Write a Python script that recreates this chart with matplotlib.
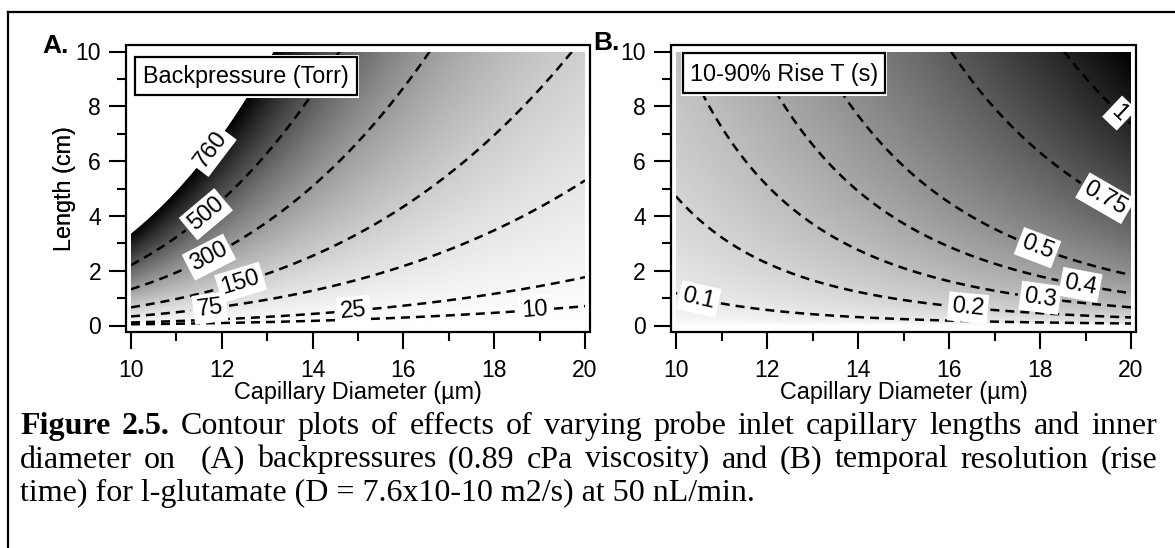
import numpy as np
import matplotlib
matplotlib.use('Agg')
import matplotlib.pyplot as plt
from matplotlib.colors import LinearSegmentedColormap
from matplotlib.patches import Rectangle
from matplotlib.lines import Line2D

diameter_range_um = [10, 20]
length_range_cm = [0, 10]
viscosity_cP = 0.89          # caption: 0.89 cPa viscosity
flow_nL_min = 50             # caption: 50 nL/min
diffusivity_m2_s = 7.6e-10   # caption: D = 7.6x10-10 m2/s
pressure_levels_torr = [10, 25, 75, 150, 300, 500]
pressure_label_pos = [(18.9, 0.57), (14.9, 0.57), (11.74, 0.63), (12.4, 1.66),
                      (11.75, 2.39), (11.63, 4.1)]
pressure_cap_torr = 760
pressure_cap_label_pos = [(11.78, 6.4)]
rise_levels_s = [0.1, 0.2, 0.3, 0.4, 0.5, 0.75, 1]
rise_label_pos = [(10.5, 0.95), (16.42, 0.66), (18.0, 1.0), (18.88, 1.43),
                  (17.93, 2.77), (19.36, 4.42), (19.6, 7.5)]
x_major_ticks = [10, 12, 14, 16, 18, 20]
x_minor_ticks = [11, 13, 15, 17, 19]
y_major_ticks = [0, 2, 4, 6, 8, 10]
y_minor_ticks = [1, 3, 5, 7, 9]
title_A = 'Backpressure (Torr)'
title_B = '10-90% Rise T (s)'
panel_letters = ['A.', 'B.']
xlabel_text = 'Capillary Diameter (µm)'
ylabel_text = 'Length (cm)'
caption_line1 = [('Figure', 'bold'), ('2.5.', 'bold'), ('Contour', 'normal'), ('plots', 'normal'),
                 ('of', 'normal'), ('effects', 'normal'), ('of', 'normal'), ('varying', 'normal'),
                 ('probe', 'normal'), ('inlet', 'normal'), ('capillary', 'normal'),
                 ('lengths', 'normal'), ('and', 'normal'), ('inner', 'normal')]
caption_line2 = ['diameter', 'on', '', '(A)', 'backpressures', '(0.89', 'cPa', 'viscosity)',
                 'and', '(B)', 'temporal', 'resolution', '(rise']
caption_line3 = 'time) for l-glutamate (D = 7.6x10-10 m2/s) at 50 nL/min.'

# ---------------- fields (physical model of the plotted quantities) ----------------
d_um = np.linspace(diameter_range_um[0], diameter_range_um[1], 601)
L_cm = np.linspace(length_range_cm[0], length_range_cm[1], 601)
DD, LL = np.meshgrid(d_um, L_cm)
d_m = DD * 1e-6
L_m = LL * 1e-2
Q = flow_nL_min * 1e-12 / 60.0
mu = viscosity_cP * 1e-3
P_torr = 128 * mu * L_m * Q / (np.pi * d_m ** 4) / 133.322
a = d_m / 2
rise_s = 2 * 1.28155 * a ** 2 * np.sqrt(np.pi * L_m / (24 * diffusivity_m2_s * Q))

# ---------------- figure ----------------
W, H = 1175, 548
plt.rcParams['font.family'] = ['Liberation Sans', 'DejaVu Sans']
fig = plt.figure(figsize=(W / 100, H / 100), dpi=100)
fig.patch.set_facecolor('white')

def fx(px):
    return px / W

def fy(py):
    return 1 - py / H

gray = LinearSegmentedColormap.from_list('wk', ['white', 'black'])

axes_px = [(131, 585), (676, 1131)]
top_px, bot_px = 51.5, 325.5
TICK_FS = 16.5
LABEL_FS = 16.8
CLABEL_FS = 17

def setup_axes(ax, xpx):
    ax.set_xlim(diameter_range_um)
    ax.set_ylim(length_range_cm)
    for s in ax.spines.values():
        s.set_visible(False)
    ax.spines['left'].set_position(('outward', 3.6))
    ax.spines['bottom'].set_position(('outward', 4.7))
    wpx = xpx[1] - xpx[0]
    hpx = bot_px - top_px
    dx, dy = 5 / wpx, 6.5 / hpx
    ax.add_patch(Rectangle((-dx, -dy), 1 + 2 * dx, 1 + 2 * dy, transform=ax.transAxes,
                           fill=False, lw=1.6, ec='black', clip_on=False, zorder=6))
    ax.set_xticks(x_major_ticks)
    ax.set_xticks(x_minor_ticks, minor=True)
    ax.set_yticks(y_major_ticks)
    ax.set_yticks(y_minor_ticks, minor=True)
    ax.tick_params(which='both', direction='out', width=1.5, top=False, right=False,
                   labelsize=TICK_FS, colors='black')
    ax.tick_params(which='major', length=12.5)
    ax.tick_params(which='minor', length=6.5)
    ax.tick_params(axis='x', which='major', pad=7)
    ax.tick_params(axis='y', which='major', pad=5.5)
    ax.set_xlabel(xlabel_text, fontsize=LABEL_FS, va='center')
    ax.xaxis.set_label_coords(0.5, -(393 - bot_px) / hpx)
    ax.set_ylabel(ylabel_text, fontsize=LABEL_FS, va='center')
    ax.yaxis.set_label_coords(-(xpx[0] - 65) / wpx, 0.5)

def style_labels(texts):
    for t in texts:
        t.set_bbox(dict(boxstyle='square,pad=0.15', fc='white', ec='none'))

dash = (0, (3.6, 2.4))
LW = 1.8
fmt = lambda v: f'{v:g}'

# Panel A
xa = axes_px[0]
axA = fig.add_axes([fx(xa[0]), fy(bot_px), (xa[1] - xa[0]) / W, (bot_px - top_px) / H])
axA.imshow(np.minimum(P_torr, pressure_cap_torr), origin='lower',
           extent=[*diameter_range_um, *length_range_cm],
           aspect='auto', cmap=gray, vmin=0, vmax=pressure_cap_torr, interpolation='bilinear')
axA.contourf(DD, LL, P_torr, levels=[pressure_cap_torr, P_torr.max() * 2], colors='white',
             antialiased=True)
csA = axA.contour(DD, LL, P_torr, levels=pressure_levels_torr, colors='black', linewidths=LW)
csA.set_linestyle(dash)
txA = axA.clabel(csA, pressure_levels_torr, manual=pressure_label_pos, inline=True,
                 inline_spacing=6, fmt=fmt, fontsize=CLABEL_FS)
style_labels(txA)
csCap = axA.contour(DD, LL, P_torr, levels=[pressure_cap_torr], colors='black', linewidths=0)
txCap = axA.clabel(csCap, [pressure_cap_torr], manual=pressure_cap_label_pos, inline=False,
                   fmt=fmt, fontsize=CLABEL_FS)
style_labels(txCap)
setup_axes(axA, xa)

# Panel B
xb = axes_px[1]
axB = fig.add_axes([fx(xb[0]), fy(bot_px), (xb[1] - xb[0]) / W, (bot_px - top_px) / H])
axB.imshow(rise_s, origin='lower', extent=[*diameter_range_um, *length_range_cm],
           aspect='auto', cmap=gray, vmin=0, vmax=rise_s.max(), interpolation='bilinear')
csB = axB.contour(DD, LL, rise_s, levels=rise_levels_s, colors='black', linewidths=LW)
csB.set_linestyle(dash)
txB = axB.clabel(csB, rise_levels_s, manual=rise_label_pos, inline=True,
                 inline_spacing=6, fmt=fmt, fontsize=CLABEL_FS)
style_labels(txB)
setup_axes(axB, xb)

# legend-like title boxes
def title_box(x0, y0, x1, y1, text, tx):
    fig.add_artist(Rectangle((fx(x0 - 2), fy(y1 + 3)), (x1 - x0 + 4) / W, (y1 - y0 + 5) / H,
                             transform=fig.transFigure, fc='white', ec='none', zorder=10))
    fig.add_artist(Rectangle((fx(x0), fy(y1)), (x1 - x0) / W, (y1 - y0) / H,
                             transform=fig.transFigure, fc='white', ec='black', lw=1.6, zorder=11))
    fig.text(fx(tx), fy((y0 + y1) / 2 + 1), text, fontsize=LABEL_FS, ha='left', va='center',
             zorder=12)

title_box(135, 57, 357, 95, title_A, 143)
title_box(683, 53, 885, 93, title_B, 690)

# panel letters
fig.text(fx(42), fy(53), panel_letters[0], fontsize=19, fontweight='bold', va='baseline', ha='left')
fig.text(fx(593), fy(50), panel_letters[1], fontsize=19, fontweight='bold', va='baseline', ha='left')

# outer frame
fig.add_artist(Line2D([fx(8), fx(8)], [fy(12), fy(H + 5)], transform=fig.transFigure,
                      color='black', lw=1.6))
fig.add_artist(Line2D([fx(8), fx(W + 5)], [fy(12), fy(12)], transform=fig.transFigure,
                      color='black', lw=1.6))

# caption (justified like the original document)
renderer = fig.canvas.get_renderer()
serif = ['Liberation Serif', 'DejaVu Serif']

def text_width(s, size, weight='normal'):
    t = fig.text(0, 0, s, fontsize=size, fontweight=weight, family=serif)
    w = t.get_window_extent(renderer).width
    t.remove()
    return w

cap_x0, cap_x1 = 20, 1157
line3_right = 756
size = 18 * (line3_right - cap_x0) / text_width(caption_line3, 18)
base_y = [434, 467.5, 501]

def justify(words, y):
    widths = [text_width(w, size, wt) if w else 0 for w, wt in words]
    gap = (cap_x1 - cap_x0 - sum(widths)) / (len(words) - 1)
    x = cap_x0
    for (w, wt), wd in zip(words, widths):
        if w:
            fig.text(fx(x), fy(y), w, fontsize=size, fontweight=wt, family=serif,
                     ha='left', va='baseline')
        x += wd + gap

justify(caption_line1, base_y[0])
justify([(w, 'normal') for w in caption_line2], base_y[1])
fig.text(fx(cap_x0), fy(base_y[2]), caption_line3, fontsize=size, family=serif,
         ha='left', va='baseline')

fig.savefig('out.png', dpi=100, facecolor='white')
